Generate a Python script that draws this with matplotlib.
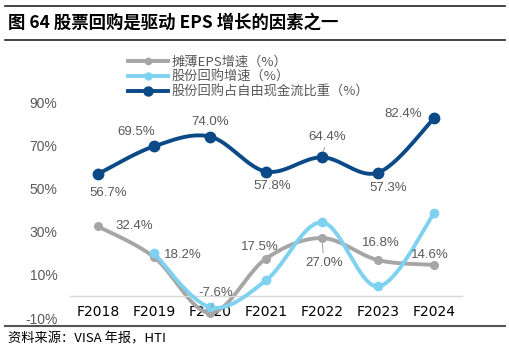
import numpy as np
import matplotlib
matplotlib.use("Agg")
import matplotlib.pyplot as plt
from matplotlib.lines import Line2D

# ===== DATA =====
years = ["F2018", "F2019", "F2020", "F2021", "F2022", "F2023", "F2024"]
eps_growth = [32.4, 18.2, -7.6, 17.5, 27.0, 16.8, 14.6]        # 摊薄EPS增速
buyback_growth = [20.0, -5.0, 7.4, 34.3, 4.6, 38.4]            # 股份回购增速 (F2019 起)
buyback_fcf = [56.7, 69.5, 74.0, 57.8, 64.4, 57.3, 82.4]       # 股份回购占自由现金流比重
yticks = [-10, 10, 30, 50, 70, 90]

# ===== STYLE =====
C_GRAY = "#a6a6a6"
C_LIGHT = "#7fd1f0"
C_DARK = "#0b4a86"
C_TEXT = "#595959"
NUM_FONT = ["Liberation Sans", "Noto Sans CJK SC"]
CJK_FONT = ["Noto Sans CJK SC", "Liberation Sans"]


def smooth(x, y, n=40):
    # catmull-rom through the points, like office "smoothed line"
    x = np.asarray(x, float)
    y = np.asarray(y, float)
    px = np.concatenate([[x[0]], x, [x[-1]]])
    py = np.concatenate([[y[0]], y, [y[-1]]])
    xs, ys = [], []
    t = np.linspace(0, 1, n)
    for i in range(len(x) - 1):
        p0 = np.array([px[i], py[i]])
        p1 = np.array([px[i + 1], py[i + 1]])
        p2 = np.array([px[i + 2], py[i + 2]])
        p3 = np.array([px[i + 3], py[i + 3]])
        c1 = p1 + (p2 - p0) / 6
        c2 = p2 - (p3 - p1) / 6
        b = ((1 - t) ** 3)[:, None] * p1 + (3 * (1 - t) ** 2 * t)[:, None] * c1 \
            + (3 * (1 - t) * t ** 2)[:, None] * c2 + (t ** 3)[:, None] * p2
        xs.append(b[:, 0])
        ys.append(b[:, 1])
    return np.concatenate(xs), np.concatenate(ys)


fig = plt.figure(figsize=(5.1, 3.5), dpi=100)
ax = fig.add_axes([70 / 510, 1 - 318 / 350, 392 / 510, 216 / 350])

x = np.arange(len(years))
series = [
    (x, eps_growth, C_GRAY, 5.5, "摊薄EPS增速（%）"),
    (x[1:], buyback_growth, C_LIGHT, 6, "股份回购增速（%）"),
    (x, buyback_fcf, C_DARK, 7.5, "股份回购占自由现金流比重（%）"),
]
handles = []
for i, (xx, yy, col, ms, lab) in enumerate(series):
    sx, sy = smooth(xx, yy)
    ax.plot(sx, sy, color=col, lw=2.8, solid_capstyle="round", zorder=2 + i)
    ax.plot(xx, yy, "o", color=col, ms=ms, zorder=2 + i)
    handles.append(Line2D([], [], color=col, lw=2.8, marker="o", ms=ms - 1, label=lab))

ax.set_xlim(-0.5, 6.5)
ax.set_ylim(-10, 90)
ax.set_yticks(yticks)
ax.set_yticklabels([f"{v}%" for v in yticks], fontfamily=NUM_FONT, fontsize=10, color=C_TEXT)
ax.set_xticks(x)
ax.set_xticklabels(years, fontfamily=NUM_FONT, fontsize=10, color=C_TEXT)
for s in ["top", "right", "left"]:
    ax.spines[s].set_visible(False)
ax.spines["bottom"].set_position(("data", 0))
ax.spines["bottom"].set_color("#d9d9d9")
ax.spines["bottom"].set_linewidth(1)
ax.tick_params(axis="both", length=0)
ax.tick_params(axis="x", pad=6)
ax.tick_params(axis="y", pad=9)

# ===== DATA LABELS =====
lead = dict(arrowstyle="-", color="#8c8c8c", lw=0.6, shrinkA=1, shrinkB=4)
dark_off = [(10, -19), (-18, 14), (0, 15), (6, -14), (5, 20), (10, -15), (-31, 4)]
gray_off = [(36, 0), (29, 2), (6, 20), (-6, 12), (2, -25), (3, 17), (-4, 10)]
dark_lead = [False, False, False, False, True, False, False]
gray_lead = [False, False, True, False, True, False, False]
for vals, offs, leads in [(buyback_fcf, dark_off, dark_lead), (eps_growth, gray_off, gray_lead)]:
    for xi, v, off, ld in zip(x, vals, offs, leads):
        ax.annotate(f"{v:.1f}%", (xi, v), xytext=off, textcoords="offset pixels",
                    ha="center", va="center", fontsize=9.5, color=C_TEXT,
                    fontfamily=NUM_FONT, zorder=10,
                    arrowprops=lead if ld else None)

# ===== LEGEND =====
leg = fig.legend(handles=handles, loc="upper left", bbox_to_anchor=(128 / 510, 1 - 56 / 350),
                 frameon=False, borderpad=0, borderaxespad=0, handlelength=3.0,
                 handletextpad=0.3, labelspacing=0.12, numpoints=1,
                 prop={"family": CJK_FONT, "size": 9.5})
for t in leg.get_texts():
    t.set_color(C_TEXT)

# ===== TITLE / SOURCE =====
fig.add_artist(Line2D([5 / 510, 505 / 510], [1 - 6 / 350] * 2, color="#222222", lw=1.2))
fig.add_artist(Line2D([5 / 510, 505 / 510], [1 - 40 / 350] * 2, color="#222222", lw=1.2))
fig.text(8 / 510, 1 - 23 / 350, "图 64 股票回购是驱动 EPS 增长的因素之一", fontsize=12.5,
         fontweight="bold", fontfamily=CJK_FONT, va="center", ha="left", color="black")
fig.add_artist(Line2D([5 / 510, 505 / 510], [1 - 326 / 350] * 2, color="#555555", lw=1.5))
fig.text(8 / 510, 1 - 339 / 350, "资料来源：VISA 年报，HTI", fontsize=9.5,
         fontfamily=CJK_FONT, va="center", ha="left", color="black")

fig.savefig("out.png", dpi=100)
